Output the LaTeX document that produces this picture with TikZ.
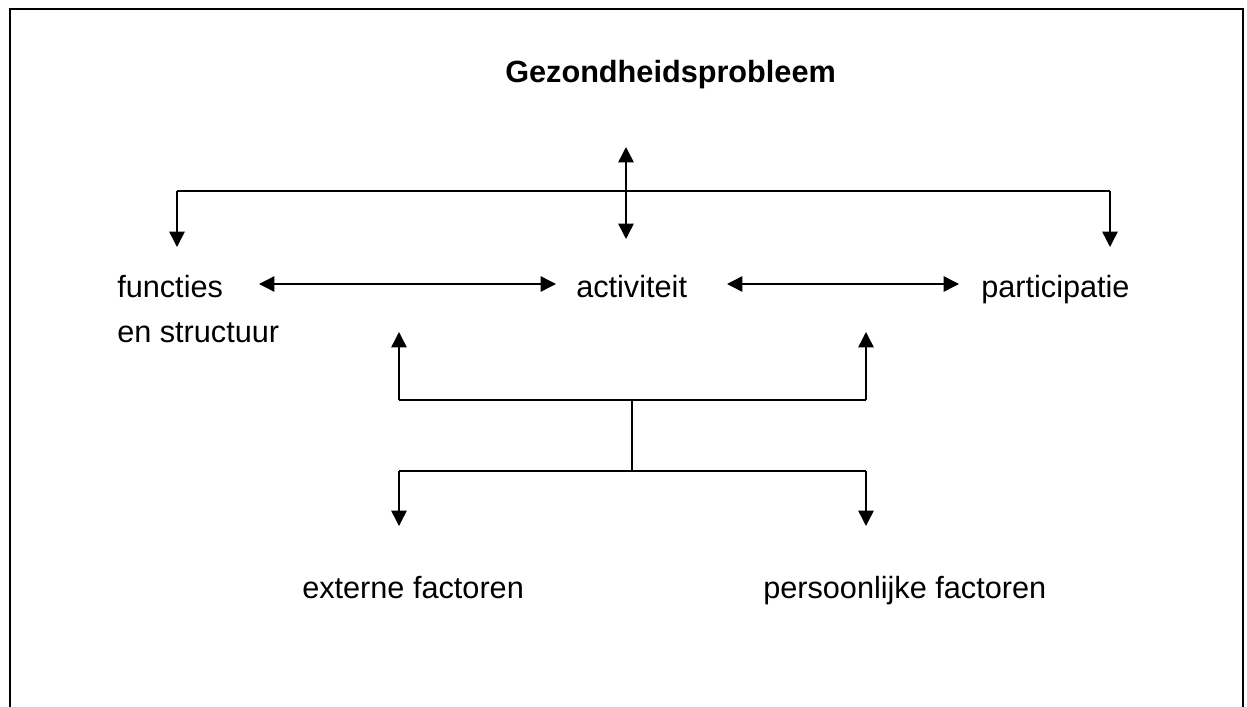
\documentclass[tikz,border=0pt]{standalone}
\usepackage{fontspec}
\setmainfont{Liberation Sans}
\usetikzlibrary{arrows.meta,positioning}

\begin{document}
\begin{tikzpicture}[
    x=0.75pt, y=-0.75pt,
    txt/.style={font=\fontsize{23}{33.75}\selectfont, inner sep=0pt, anchor=base west, align=left},
    bus/.style={line width=1.1pt},
    arrow/.style={line width=1.1pt, -{Triangle[length=11.5pt,width=11.5pt]}},
    twoway/.style={line width=1.1pt, {Triangle[length=11.5pt,width=11.5pt]}-{Triangle[length=11.5pt,width=11.5pt]}}
  ]
    \useasboundingbox (0,0) rectangle (1247,707);
    \draw[line width=1.3pt] (10,707) -- (10,9) -- (1243,9) -- (1243,707);

    \node[txt, font=\fontsize{23}{33.75}\selectfont\bfseries] (problem) at (505,82) {Gezondheidsprobleem};
    \node[txt] (functies) at (117,342) {functies\\en structuur};
    \node[txt] (activiteit) at (576,297) {activiteit};
    \node[txt] (participatie) at (981,297) {participatie};
    \node[txt] (extern) at (302,598) {externe factoren};
    \node[txt] (persoon) at (763,598) {persoonlijke factoren};

    % upper branch
    \coordinate (ptop) at (626,147);
    \coordinate (pbot) at (626,239);
    \coordinate (busl) at (177,191);
    \coordinate (busr) at (1110,191);
    \coordinate (tipl) at (177,247);
    \coordinate (tipr) at (1110,247);
    \draw[twoway] (ptop) -- (pbot);
    \draw[bus] (busl) -- (busr);
    \draw[arrow] (busl) -- (tipl);
    \draw[arrow] (busr) -- (tipr);

    % middle row
    \coordinate (fa1) at (259,284);
    \coordinate (fa2) at (556,284);
    \coordinate (ap1) at (727,284);
    \coordinate (ap2) at (959,284);
    \draw[twoway] (fa1) -- (fa2);
    \draw[twoway] (ap1) -- (ap2);

    % factors
    \coordinate (upl) at (399,400);
    \coordinate (upr) at (866,400);
    \coordinate (uptipl) at (399,332);
    \coordinate (uptipr) at (866,332);
    \coordinate (stemtop) at (632,400);
    \coordinate (stembot) at (632,471);
    \coordinate (lowl) at (399,471);
    \coordinate (lowr) at (866,471);
    \coordinate (lowtipl) at (399,526);
    \coordinate (lowtipr) at (866,526);
    \draw[bus] (upl) -- (upr);
    \draw[arrow] (upl) -- (uptipl);
    \draw[arrow] (upr) -- (uptipr);
    \draw[bus] (stemtop) -- (stembot);
    \draw[bus] (lowl) -- (lowr);
    \draw[arrow] (lowl) -- (lowtipl);
    \draw[arrow] (lowr) -- (lowtipr);
  \end{tikzpicture}
\end{document}
